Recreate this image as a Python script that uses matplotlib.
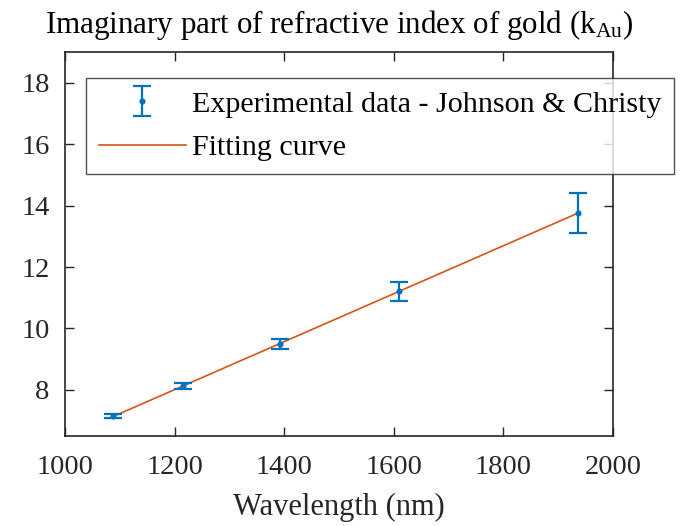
import numpy as np
import matplotlib
matplotlib.use("Agg")
import matplotlib.pyplot as plt

plt.rcParams["font.family"] = ["Liberation Serif", "DejaVu Serif"]
plt.rcParams["mathtext.fontset"] = "custom"
plt.rcParams["mathtext.rm"] = "Liberation Serif"
plt.rcParams["mathtext.it"] = "Liberation Serif:italic"

# Johnson & Christy data for gold
wavelength_nm = [1088, 1216, 1393, 1610, 1937]
k_au = [7.15, 8.13, 9.50, 11.21, 13.77]
k_err = [0.07, 0.10, 0.17, 0.30, 0.65]

x_ticks = [1000, 1200, 1400, 1600, 1800, 2000]
y_ticks = [8, 10, 12, 14, 16, 18]

blue = "#0072BD"
orange = "#D95319"
axis_col = "#262626"

fig = plt.figure(figsize=(6.8, 5.26), dpi=100)
ax = fig.add_axes([65 / 680, 1 - 436 / 526, (613 - 65) / 680, (436 - 52) / 526])

eb = ax.errorbar(wavelength_nm, k_au, yerr=k_err, fmt="o", color=blue,
                 markersize=3.4, elinewidth=1.6, capsize=6.5, capthick=1.6,
                 label="Experimental data - Johnson & Christy", zorder=3)

# Linear least-squares fit through the measured points
coef = np.polyfit(wavelength_nm, k_au, 1)
xf = np.linspace(min(wavelength_nm), max(wavelength_nm), 200)
fit_line, = ax.plot(xf, np.polyval(coef, xf), color=orange, linewidth=1.2,
                    label="Fitting curve", zorder=2)

ax.set_xlim(1000, 2000)
ax.set_ylim(6.5, 19)
ax.set_xticks(x_ticks)
ax.set_yticks(y_ticks)
ax.tick_params(direction="in", length=6.5, width=1.0, colors=axis_col,
               labelcolor="#262626", labelsize=20.5, top=True, right=True, pad=11)
ax.tick_params(axis="x", pad=14)
for s in ax.spines.values():
    s.set_color(axis_col)
    s.set_linewidth(1.2)

ax.set_xlabel("Wavelength (nm)", fontsize=22, color="#262626", labelpad=9)
ax.set_title(r"Imaginary part of refractive index of gold (k$_{\mathrm{Au}}$)",
             fontsize=22.3, color="black", pad=14)

leg = ax.legend([eb, fit_line],
                ["Experimental data - Johnson & Christy", "Fitting curve"],
                loc="upper left", bbox_to_anchor=(86 / 680, 1 - 78 / 526),
                bbox_transform=fig.transFigure, fontsize=21.6, frameon=True,
                fancybox=False, handlelength=2.9, handletextpad=0.22,
                borderpad=0.42, labelspacing=0.55, borderaxespad=0)
leg.get_frame().set_edgecolor(axis_col)
leg.get_frame().set_linewidth(1.0)

fig.savefig("out.png", dpi=100)
